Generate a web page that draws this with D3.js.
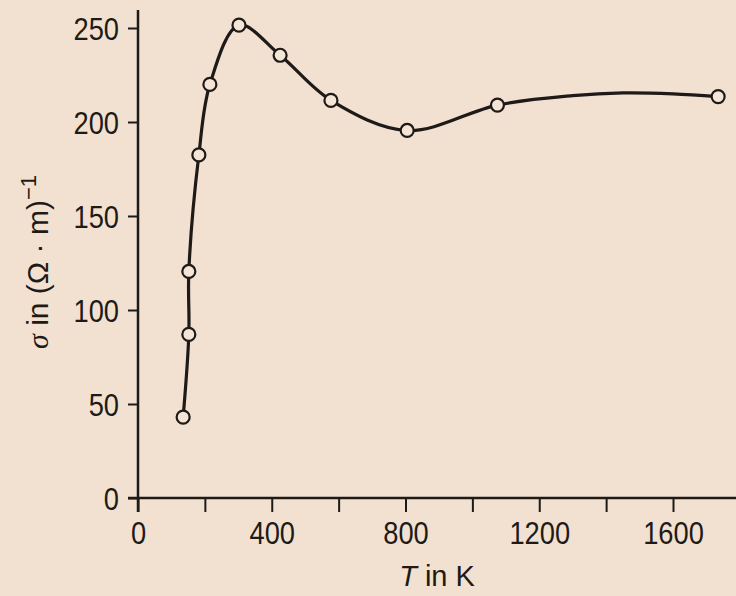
<!DOCTYPE html>
<html><head><meta charset="utf-8">
<script src="https://cdn.jsdelivr.net/npm/d3@7"></script>
<style>
html,body{margin:0;padding:0;background:#f2e1d1;}
svg{display:block;}
text{font-family:"Liberation Sans Narrow","Arial Narrow","Liberation Sans",Arial,sans-serif;fill:#1e1a17;}
</style></head>
<body>
<svg id="c" width="736" height="596"></svg>
<script>
// measured points (markers)
const temps  = [135, 152, 152, 182, 215, 302, 425, 577, 805, 1075, 1735];
const sigmas = [43, 87, 120.5, 182.5, 220, 251.5, 235.5, 211.5, 195.5, 209, 213.5];
// extra points (no markers)
const curveTemps  = [1300, 1450, 1600];
const curveSigmas = [214, 215.5, 215];
// axes
const xTicks = [0, 200, 400, 600, 800, 1000, 1200, 1400, 1600];
const xLabelTicks = [0, 400, 800, 1200, 1600];
const yTicks = [0, 50, 100, 150, 200, 250];

const svg = d3.select("#c");
const x = d3.scaleLinear().domain([0, 1600]).range([138, 673]);
const y = d3.scaleLinear().domain([0, 250]).range([498, 28]);
const ink = "#1e1a17";

function condense(sel, k) {
  sel.each(function () {
    const len = this.getComputedTextLength();
    if (len > 0) d3.select(this).attr("textLength", len * k).attr("lengthAdjust", "spacingAndGlyphs");
  });
}

// x axis
const xAxis = d3.axisBottom(x).tickValues(xTicks).tickSize(14)
  .tickFormat(d => xLabelTicks.includes(d) ? d : "");
const gx = svg.append("g").attr("transform", `translate(0,${y(0)})`).call(xAxis);
gx.select(".domain").remove();
gx.append("line").attr("x1", x(0) - 10).attr("x2", 736).attr("stroke", ink).attr("stroke-width", 2.5);
gx.selectAll(".tick line").attr("stroke", ink).attr("stroke-width", 2);
gx.selectAll(".tick text").attr("dy", 0).attr("y", 46).style("font-size", "31px").attr("fill", ink)
  .call(condense, 0.88);

// y axis
const yAxis = d3.axisLeft(y).tickValues(yTicks).tickSize(10).tickPadding(9);
const gy = svg.append("g").attr("transform", `translate(${x(0)},0)`).call(yAxis);
gy.select(".domain").remove();
gy.append("line").attr("y1", 10).attr("y2", y(0) + 14).attr("stroke", ink).attr("stroke-width", 2.5);
gy.selectAll(".tick line").attr("stroke", ink).attr("stroke-width", 2);
gy.selectAll(".tick text").attr("dy", "0.36em").style("font-size", "31px").attr("fill", ink)
  .call(condense, 0.88);

// curve
const pts = temps.map((t, i) => [t, sigmas[i]])
  .concat(curveTemps.map((t, i) => [t, curveSigmas[i]]))
  .sort((a, b) => a[0] - b[0] || a[1] - b[1]);
const line = d3.line().x(d => x(d[0])).y(d => y(d[1])).curve(d3.curveCatmullRom.alpha(0.5));
svg.append("path").attr("d", line(pts)).attr("fill", "none").attr("stroke", ink).attr("stroke-width", 3.2);

// markers
svg.selectAll("circle.m").data(temps.map((t, i) => [t, sigmas[i]])).join("circle")
  .attr("class", "m").attr("cx", d => x(d[0])).attr("cy", d => y(d[1])).attr("r", 6.5)
  .attr("fill", "#f4e5d7").attr("stroke", ink).attr("stroke-width", 2.2);

// axis titles
const xt = svg.append("text").attr("x", 437).attr("y", 586).attr("text-anchor", "middle").style("font-size", "29px");
xt.append("tspan").attr("font-style", "italic").text("T");
xt.append("tspan").text(" in K");

const yt = svg.append("text").attr("transform", "translate(48,262) rotate(-90)").attr("text-anchor", "middle").style("font-size", "30px");
yt.append("tspan").attr("font-style", "italic").attr("font-family", "'Liberation Serif','DejaVu Serif',serif").text("σ");
yt.append("tspan").text(" in (Ω · m)");
yt.append("tspan").attr("dy", -12).style("font-size", "22px").text("−1");
</script>
</body></html>
